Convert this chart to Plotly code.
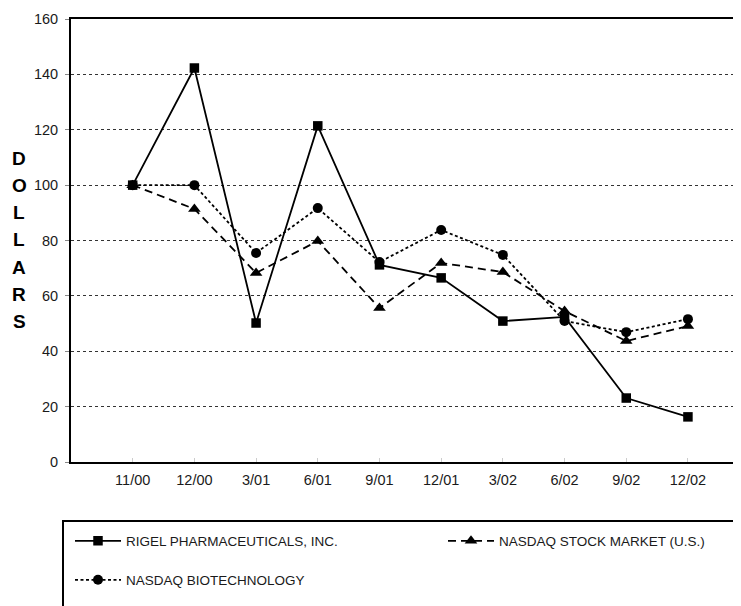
import plotly.graph_objects as go

dates = ["11/00", "12/00", "3/01", "6/01", "9/01", "12/01", "3/02", "6/02", "9/02", "12/02"]
rigel = [100, 142.3, 50.2, 121.4, 71.2, 66.5, 50.9, 52.4, 23.1, 16.3]
nasdaq_us = [100, 91.4, 68.3, 79.8, 55.6, 71.9, 68.6, 54.5, 43.7, 49.1]
nasdaq_bio = [100, 100, 75.5, 91.7, 72.2, 83.8, 74.8, 50.9, 46.9, 51.6]
y_ticks = [0, 20, 40, 60, 80, 100, 120, 140, 160]
y_title = "DOLLARS"

FONT = "Liberation Sans, Arial, sans-serif"
fig = go.Figure()
fig.add_trace(go.Scatter(
    x=dates, y=rigel, name="RIGEL PHARMACEUTICALS, INC.", mode="lines+markers",
    line=dict(color="black", width=1.8, dash="solid"),
    marker=dict(symbol="square", size=9.5, color="black"), legend="legend"))
fig.add_trace(go.Scatter(
    x=dates, y=nasdaq_us, name="NASDAQ STOCK MARKET (U.S.)", mode="lines+markers",
    line=dict(color="black", width=1.8, dash="8px,5px"),
    marker=dict(symbol="triangle-up", size=11, color="black"), legend="legend2"))
fig.add_trace(go.Scatter(
    x=dates, y=nasdaq_bio, name="NASDAQ BIOTECHNOLOGY", mode="lines+markers",
    line=dict(color="black", width=1.8, dash="3px,2.5px"),
    marker=dict(symbol="circle", size=10, color="black"), legend="legend3"))

# page pixel -> paper coordinate helpers (plot area: x 71..741, y 19..462)
H = 443.0
W = 670.0
def py(pix):
    return (462 - pix) / H
def px(pix):
    return (pix - 71) / W

fig.add_shape(type="rect", xref="paper", yref="paper",
              x0=px(63), x1=px(760), y0=py(640), y1=py(521),
              line=dict(color="black", width=2), fillcolor="rgba(0,0,0,0)")

for i, ch in enumerate(y_title):
    fig.add_annotation(text=ch, xref="paper", yref="paper",
                       x=px(19), y=py(158 + i * 27.3), showarrow=False,
                       font=dict(family=FONT, size=19, color="black", weight="bold"),
                       xanchor="center", yanchor="middle")

leg_common = dict(orientation="h", xanchor="left", yanchor="middle", itemwidth=46,
                  font=dict(size=13.5, color="#1a1a1a"), bgcolor="rgba(0,0,0,0)")
fig.update_layout(
    width=733, height=598,
    margin=dict(l=63, r=0, t=11, b=144),
    paper_bgcolor="white", plot_bgcolor="white",
    font=dict(family=FONT, size=14.5, color="#1a1a1a"),
    showlegend=True,
    legend=dict(x=px(70), y=py(541), **leg_common),
    legend2=dict(x=px(443), y=py(541), **leg_common),
    legend3=dict(x=px(70), y=py(580), **leg_common),
    xaxis=dict(type="category", range=[-1.0, 9.86], showgrid=False,
               showline=True, linecolor="black", linewidth=2, mirror=True,
               ticks="inside", ticklen=4, tickcolor="#ccc", ticklabelstandoff=4,
               tickfont=dict(size=14.5, color="#1a1a1a"), zeroline=False),
    yaxis=dict(range=[0, 160], tickvals=y_ticks, showgrid=True,
               gridcolor="#333", griddash="dot", gridwidth=1,
               showline=True, linecolor="black", linewidth=2, mirror=False,
               ticks="outside", ticklen=4, tickcolor="#888", ticklabelstandoff=4,
               tickfont=dict(size=14.5, color="#1a1a1a"), zeroline=False),
)

fig.write_html("out.html")
